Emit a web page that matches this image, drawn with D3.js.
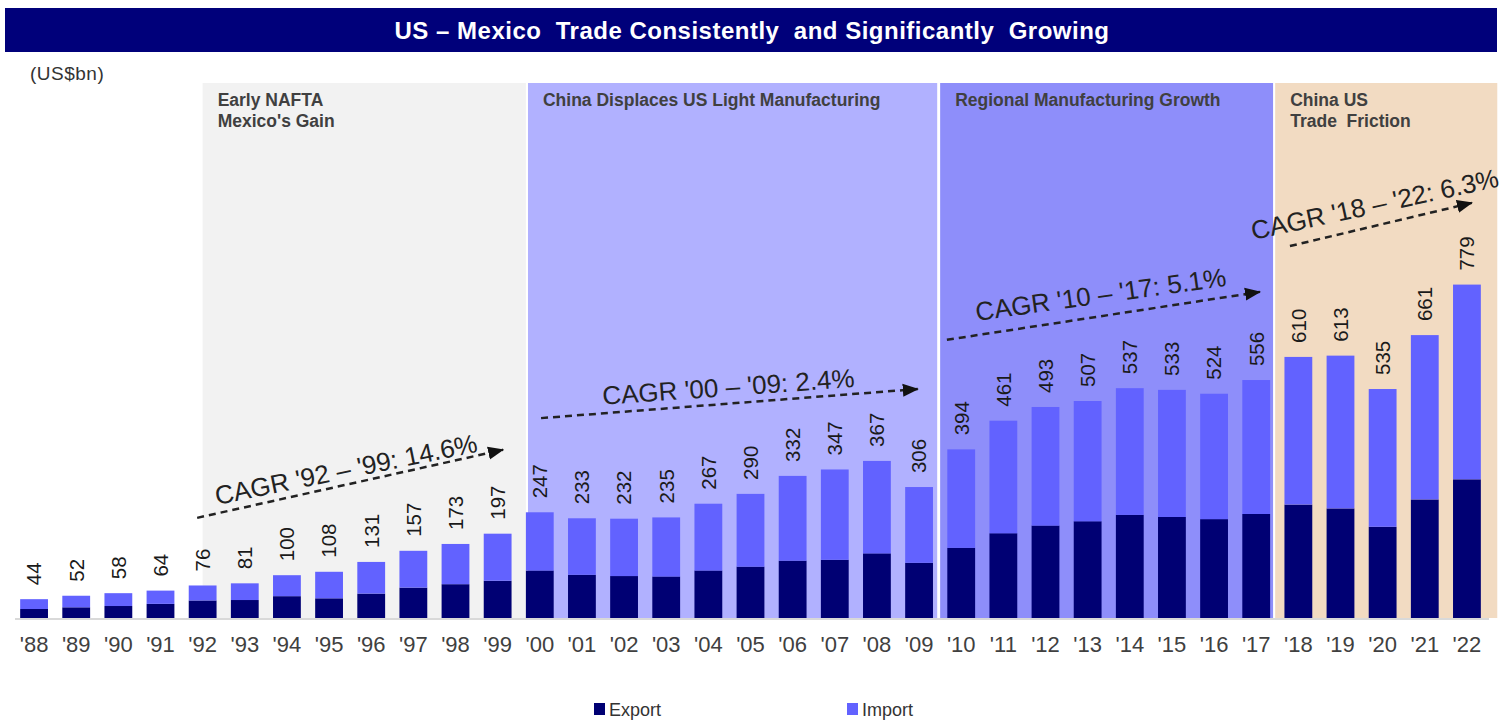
<!DOCTYPE html>
<html>
<head>
<meta charset="utf-8">
<script src="https://cdn.jsdelivr.net/npm/d3@7"></script>
<style>
  body { margin: 0; background: #fff; }
  svg { display: block; font-family: "Liberation Sans", Arial, sans-serif; }
</style>
</head>
<body>
<div id="chart"></div>
<script>
const years = ["'88","'89","'90","'91","'92","'93","'94","'95","'96","'97","'98","'99",
  "'00","'01","'02","'03","'04","'05","'06","'07","'08","'09",
  "'10","'11","'12","'13","'14","'15","'16","'17","'18","'19","'20","'21","'22"];

// total trade labels (US$bn)
const totals = [44,52,58,64,76,81,100,108,131,157,173,197,247,233,232,235,267,290,332,347,367,306,
  394,461,493,507,537,533,524,556,610,613,535,661,779];

const exportVals = [21,25,28,33,41,42,51,46,57,71,79,87,111,101,98,97,111,120,134,136,151,129,
  164,198,216,226,241,236,231,243,265,256,213,277,324];

const importVals = [23,27,30,31,35,39,49,62,74,86,94,110,136,132,134,138,156,170,198,211,216,177,
  230,263,277,281,296,297,293,313,345,357,322,384,455];

const seriesNames = ["Export", "Import"];

// shaded periods, in bar-index units
const periodNames = [["Early NAFTA", "Mexico's Gain"], ["China Displaces US Light Manufacturing"],
  ["Regional Manufacturing Growth"], ["China US", "Trade  Friction"]];
const periodFrom = [4.0, 11.72, 21.5, 29.45];
const periodTo = [11.67, 21.43, 29.4, 34.72];

// CAGR arrows: start / end in (bar index, value)
const cagrLabels = ["CAGR '92 – '99: 14.6%", "CAGR '00 – '09: 2.4%", "CAGR '10 – '17: 5.1%", "CAGR '18 – '22: 6.3%"];
const cagrStart = [[3.87, 234], [12.03, 467], [21.66, 650], [29.8, 869]];
const cagrEnd = [[11.13, 393], [20.97, 535], [29.09, 762], [34.12, 970]];
const cagrTextAt = [[4.34, 264], [13.5, 498], [22.37, 694], [28.93, 883]];

const W = 1503, H = 720;
const colors = { Export: "#000073", Import: "#6262ff" };
const periodColors = ["#f2f2f2", "#b1b1ff", "#8e8efa", "#f2dbc2"];

const svg = d3.select("#chart").append("svg")
  .attr("width", W)
  .attr("height", H);

// title bar
svg.append("rect")
  .attr("x", 5).attr("y", 8)
  .attr("width", 1492).attr("height", 44)
  .attr("fill", "#00007a");

svg.append("text")
  .attr("x", 752).attr("y", 39)
  .attr("text-anchor", "middle")
  .attr("fill", "#fff")
  .attr("font-size", 24)
  .attr("font-weight", "bold")
  .attr("letter-spacing", 0.5)
  .style("white-space", "pre")
  .text("US – Mexico  Trade Consistently  and Significantly  Growing");

svg.append("text")
  .attr("x", 30).attr("y", 80)
  .attr("fill", "#333")
  .attr("font-size", 19)
  .attr("letter-spacing", 0.5)
  .text("(US$bn)");

const x = d3.scaleBand()
  .domain(years)
  .range([13, 1488])
  .paddingInner(0.34)
  .paddingOuter(0.17);

const y = d3.scaleLinear()
  .domain([0, 1000])
  .range([618, 190]);

// position along x in bar-index units (centre of bar i)
const pos = i => x(years[0]) + x.bandwidth() / 2 + i * x.step();

// period panels
const panels = svg.append("g").selectAll("g")
  .data(periodNames)
  .join("g");

panels.append("rect")
  .attr("x", (d, i) => pos(periodFrom[i]))
  .attr("y", 83)
  .attr("width", (d, i) => pos(periodTo[i]) - pos(periodFrom[i]))
  .attr("height", y(0) - 83)
  .attr("fill", (d, i) => periodColors[i]);

panels.append("text")
  .attr("x", (d, i) => pos(periodFrom[i]) + 15)
  .attr("y", 106)
  .attr("fill", "#404040")
  .attr("font-size", 17.5)
  .attr("font-weight", "bold")
  .style("white-space", "pre")
  .selectAll("tspan")
  .data(d => d)
  .join("tspan")
    .attr("x", function() { return this.parentNode.getAttribute("x"); })
    .attr("dy", (d, i) => i ? 21 : 0)
    .text(d => d);

// axis
const xAxis = svg.append("g")
  .attr("transform", `translate(0,${y(0)})`)
  .call(d3.axisBottom(x).tickSize(0).tickPadding(18));

xAxis.select(".domain")
  .attr("stroke", "#d9d9d9")
  .attr("stroke-width", 2)
  .attr("d", `M15,1H1489`);

xAxis.selectAll("text")
  .attr("font-size", 22)
  .attr("font-family", "Liberation Sans, Arial, sans-serif")
  .attr("fill", "#404040");

// stacked bars
const table = years.map((yr, i) => ({ year: yr, Export: exportVals[i], Import: importVals[i] }));
const stacked = d3.stack().keys(seriesNames)(table);

svg.append("g").selectAll("g")
  .data(stacked)
  .join("g")
    .attr("fill", d => colors[d.key])
  .selectAll("rect")
  .data(d => d)
  .join("rect")
    .attr("x", d => x(d.data.year))
    .attr("y", d => y(d[1]))
    .attr("width", x.bandwidth())
    .attr("height", d => y(d[0]) - y(d[1]));

// total labels
svg.append("g").selectAll("text")
  .data(totals)
  .join("text")
    .attr("transform", (d, i) => `translate(${x(years[i]) + x.bandwidth() / 2},${y(d) - 14}) rotate(-90)`)
    .attr("dy", "0.36em")
    .attr("font-size", 20.5)
    .attr("fill", "#1a1a1a")
    .text(d => d);

// CAGR arrows
svg.append("defs").append("marker")
  .attr("id", "arrow")
  .attr("markerUnits", "userSpaceOnUse")
  .attr("viewBox", "0 -7 16 14")
  .attr("refX", 15)
  .attr("refY", 0)
  .attr("markerWidth", 16)
  .attr("markerHeight", 14)
  .attr("orient", "auto")
  .append("path")
    .attr("d", "M0,-6.5L16,0L0,6.5Z")
    .attr("fill", "#111");

svg.append("g").selectAll("line")
  .data(cagrLabels)
  .join("line")
    .attr("x1", (d, i) => pos(cagrStart[i][0]))
    .attr("y1", (d, i) => y(cagrStart[i][1]))
    .attr("x2", (d, i) => pos(cagrEnd[i][0]))
    .attr("y2", (d, i) => y(cagrEnd[i][1]))
    .attr("stroke", "#222")
    .attr("stroke-width", 2.5)
    .attr("stroke-dasharray", "7,5")
    .attr("marker-end", "url(#arrow)");

svg.append("g").selectAll("text")
  .data(cagrLabels)
  .join("text")
    .attr("transform", (d, i) => {
      const a = Math.atan2(y(cagrEnd[i][1]) - y(cagrStart[i][1]), pos(cagrEnd[i][0]) - pos(cagrStart[i][0])) * 180 / Math.PI;
      return `translate(${pos(cagrTextAt[i][0])},${y(cagrTextAt[i][1])}) rotate(${a * 0.92})`;
    })
    .attr("font-size", 26)
    .attr("fill", "#222")
    .text(d => d);

// legend
const legend = svg.append("g").selectAll("g")
  .data(seriesNames)
  .join("g")
    .attr("transform", (d, i) => `translate(${594 + i * 253},703)`);

legend.append("rect")
  .attr("width", 11).attr("height", 12)
  .attr("fill", d => colors[d]);

legend.append("text")
  .attr("x", 15).attr("y", 12.5)
  .attr("font-size", 18)
  .attr("fill", "#333")
  .text(d => d);
</script>
</body>
</html>
